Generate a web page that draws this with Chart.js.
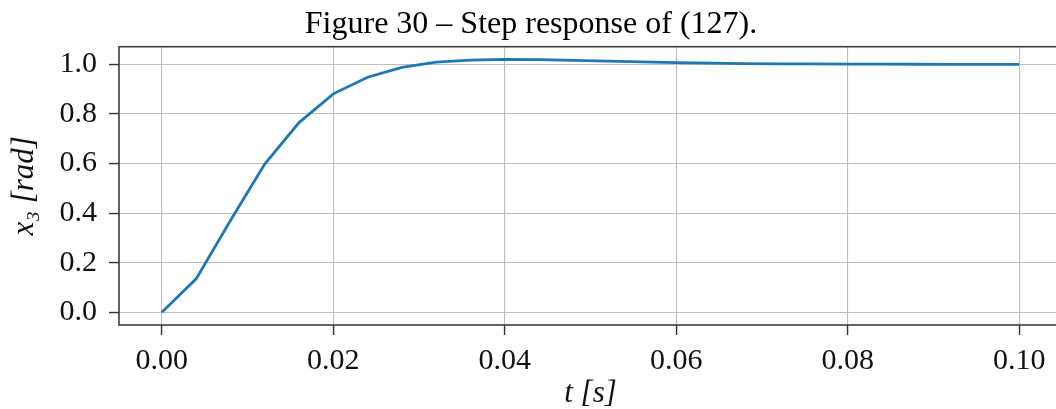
<!DOCTYPE html>
<html>
<head>
<meta charset="utf-8">
<script src="https://cdn.jsdelivr.net/npm/chart.js@4.4.1/dist/chart.umd.min.js"></script>
<style>
html,body{margin:0;padding:0;overflow:hidden;background:#fff;}
canvas{display:block;}
</style>
</head>
<body>
<canvas id="c" width="1062" height="409"></canvas>
<script>
// ---- data ----
const timeS = [0.000,0.004,0.008,0.012,0.016,0.020,0.024,0.028,0.032,0.036,0.040,0.044,0.048,0.052,0.056,0.060,0.064,0.068,0.072,0.076,0.080,0.084,0.088,0.092,0.096,0.100];
const x3Rad = [0.000,0.135,0.370,0.598,0.765,0.881,0.948,0.988,1.009,1.017,1.0196,1.0185,1.016,1.013,1.0095,1.0065,1.0045,1.003,1.002,1.0015,1.001,1.0005,1.0003,1.0001,1.000,1.000];
const xTicks = [0.00,0.02,0.04,0.06,0.08,0.10];
const xTickLabels = ['0.00','0.02','0.04','0.06','0.08','0.10'];
const yTicks = [0.0,0.2,0.4,0.6,0.8,1.0];
const yTickLabels = ['0.0','0.2','0.4','0.6','0.8','1.0'];
const chartTitle = 'Figure 30 \u2013 Step response of (127).';
const xTitle = 't [s]';
const yTitle = 'x\u2083 [rad]';

const serif = "'Liberation Serif', 'Times New Roman', serif";

const frame = {
  id: 'frame',
  afterDraw(chart) {
    const a = chart.chartArea, ctx = chart.ctx;
    ctx.save();
    ctx.strokeStyle = '#3c3c3c';
    ctx.lineWidth = 1.6;
    ctx.strokeRect(a.left, a.top, a.right - a.left, a.bottom - a.top);
    ctx.restore();
  }
};

new Chart(document.getElementById('c'), {
  type: 'line',
  data: {
    datasets: [{
      data: timeS.map((t, i) => ({x: t, y: x3Rad[i]})),
      borderColor: '#1f77b4',
      borderWidth: 2.8,
      pointRadius: 0,
      tension: 0,
      fill: false
    }]
  },
  options: {
    responsive: false,
    animation: false,
    devicePixelRatio: 1,
    layout: {padding: 0},
    plugins: {
      legend: {display: false},
      tooltip: {enabled: false},
      title: {
        display: true,
        text: chartTitle,
        color: '#000',
        font: {family: serif, size: 32, weight: 'normal', lineHeight: 1.2},
        padding: {top: 5, bottom: 3.3}
      }
    },
    scales: {
      x: {
        type: 'linear',
        min: -0.005,
        max: 0.105,
        afterBuildTicks: s => { s.ticks = xTicks.map(v => ({value: v})); },
        afterFit: s => { s.height = 84; s.paddingLeft = 0; s.paddingRight = 0; },
        ticks: {
          callback: (v, i) => xTickLabels[i],
          color: '#111',
          font: {family: serif, size: 30},
          padding: 8,
          maxRotation: 0,
          autoSkip: false
        },
        grid: {color: '#bdbdbd', lineWidth: 1.1, tickColor: '#333', tickLength: 10, tickWidth: 1.4},
        border: {display: false},
        title: {
          display: true,
          text: xTitle,
          color: '#111',
          font: {family: serif, size: 31, style: 'italic', lineHeight: 1},
          padding: {top: 0, bottom: 0}
        }
      },
      y: {
        type: 'linear',
        min: -0.051,
        max: 1.071,
        afterBuildTicks: s => { s.ticks = yTicks.map(v => ({value: v})); },
        afterFit: s => { s.width = 119; s.paddingTop = 0; s.paddingBottom = 0; },
        ticks: {
          callback: (v, i) => yTickLabels[i],
          color: '#111',
          font: {family: serif, size: 30},
          padding: 12,
          autoSkip: false
        },
        grid: {color: '#bdbdbd', lineWidth: 1.1, tickColor: '#333', tickLength: 10, tickWidth: 1.4},
        border: {display: false},
        title: {
          display: true,
          text: yTitle,
          color: '#111',
          font: {family: serif, size: 31, style: 'italic', lineHeight: 1.2},
          padding: {top: 6, bottom: 0}
        }
      }
    }
  },
  plugins: [frame]
});
</script>
</body>
</html>
